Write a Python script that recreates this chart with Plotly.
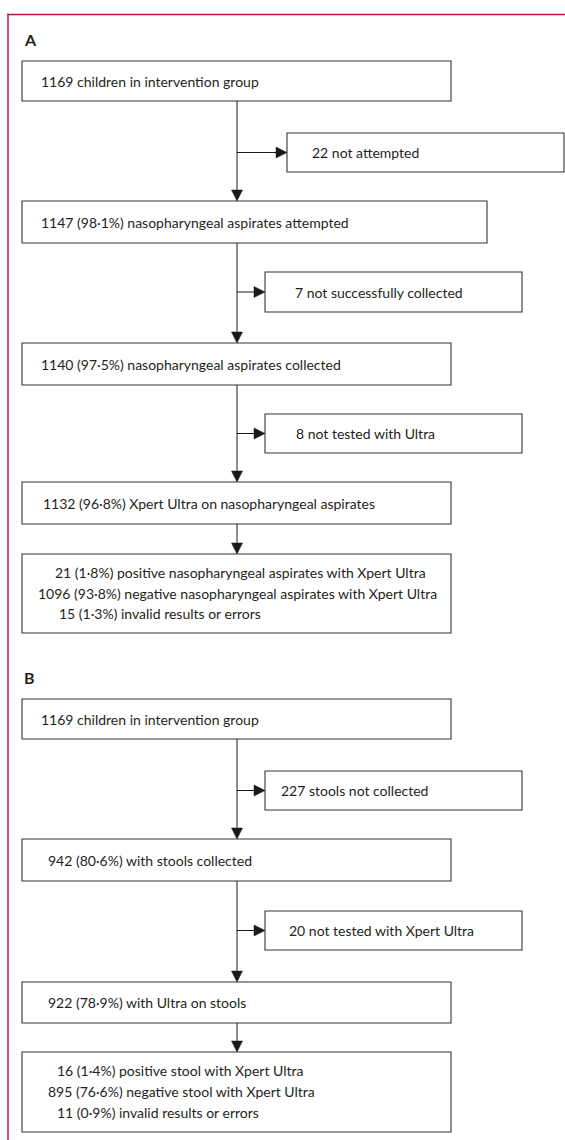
import plotly.graph_objects as go

# ---------------- data (texts) ----------------
panel_labels = ["A", "B"]

main_texts_A = [
    "1169 children in intervention group",
    "1147 (98·1%) nasopharyngeal aspirates attempted",
    "1140 (97·5%) nasopharyngeal aspirates collected",
    "1132 (96·8%) Xpert Ultra on nasopharyngeal aspirates",
]
result_lines_A = [
    "21 (1·8%) positive nasopharyngeal aspirates with Xpert Ultra",
    "1096 (93·8%) negative nasopharyngeal aspirates with Xpert Ultra",
    "15 (1·3%) invalid results or errors",
]
excluded_texts_A = [
    "22 not attempted",
    "7 not successfully collected",
    "8 not tested with Ultra",
]

main_texts_B = [
    "1169 children in intervention group",
    "942 (80·6%) with stools collected",
    "922 (78·9%) with Ultra on stools",
]
result_lines_B = [
    "16 (1·4%) positive stool with Xpert Ultra",
    "895 (76·6%) negative stool with Xpert Ultra",
    "11 (0·9%) invalid results or errors",
]
excluded_texts_B = [
    "227 stools not collected",
    "20 not tested with Xpert Ultra",
]

# ---------------- layout geometry (pixels) ----------------
W, H = 565, 1140
FONT = "Lato, sans-serif"
TXT = "#231f20"
BOX = "#333333"
RED = "#c8143c"
SPINE_X = 237

# main boxes: (x0, x1, y0, y1, text_x)
main_geo_A = [(22, 451, 61, 101, 39), (22, 487, 201, 243, 39),
              (22, 451, 343, 385, 39), (22, 451, 482, 524, 41)]
result_geo_A = (22, 451, 554, 633)
result_line_pos_A = [(53, 572), (36, 593), (57, 613)]
# excluded boxes: (x0, x1, y0, y1, text_x)
excl_geo_A = [(287, 564, 133, 172, 310), (265, 522, 272, 312, 293),
              (265, 522, 414, 453, 294)]

main_geo_B = [(22, 451, 699, 739, 39), (22, 451, 839, 881, 46),
              (22, 451, 982, 1023, 46)]
result_geo_B = (22, 451, 1052, 1132)
result_line_pos_B = [(55, 1070), (46, 1091), (55, 1112)]
excl_geo_B = [(265, 522, 771, 810, 279), (265, 522, 911, 950, 287)]

label_pos = [(22, 39), (22, 677)]

shapes = []
annotations = []


def add_rect(x0, x1, y0, y1):
    shapes.append(dict(type="rect", xref="x", yref="y", x0=x0, x1=x1, y0=y0, y1=y1,
                       line=dict(color=BOX, width=1.1), fillcolor="rgba(0,0,0,0)"))


def add_text(x, y, s, size=14, bold=False):
    annotations.append(dict(x=x, y=y, xref="x", yref="y", text=("<b>%s</b>" % s) if bold else s,
                            showarrow=False, xanchor="left", yanchor="middle",
                            font=dict(family=FONT, size=size, color=TXT)))


def add_line(x0, y0, x1, y1, color="#1a1a1a", width=1):
    shapes.append(dict(type="line", xref="x", yref="y", x0=x0, y0=y0, x1=x1, y1=y1,
                       line=dict(color=color, width=width)))


def down_head(x, y):
    shapes.append(dict(type="path", xref="x", yref="y",
                       path="M %g %g L %g %g L %g %g Z" % (x, y, x - 5.5, y - 11, x + 5.5, y - 11),
                       fillcolor="#1a1a1a", line=dict(color="#1a1a1a", width=0.5)))


def right_head(x, y):
    shapes.append(dict(type="path", xref="x", yref="y",
                       path="M %g %g L %g %g L %g %g Z" % (x, y, x - 11, y - 5.5, x - 11, y + 5.5),
                       fillcolor="#1a1a1a", line=dict(color="#1a1a1a", width=0.5)))


def build_panel(main_texts, main_geo, excl_texts, excl_geo, res_lines, res_geo, res_pos):
    for t, g in zip(main_texts, main_geo):
        add_rect(*g[:4])
        add_text(g[4], (g[2] + g[3]) / 2, t)
    for t, g in zip(excl_texts, excl_geo):
        add_rect(*g[:4])
        add_text(g[4], (g[2] + g[3]) / 2, t)
    add_rect(*res_geo)
    for t, p in zip(res_lines, res_pos):
        add_text(p[0], p[1], t)
    # connectors
    tops = [g[2] for g in main_geo[1:]] + [res_geo[2]]
    bottoms = [g[3] for g in main_geo]
    for i, (b, t) in enumerate(zip(bottoms, tops)):
        add_line(SPINE_X, b, SPINE_X, t - 10)
        down_head(SPINE_X, t)
        if i < len(excl_geo):
            eg = excl_geo[i]
            ym = (eg[2] + eg[3]) / 2
            add_line(SPINE_X, ym, eg[0] - 10, ym)
            right_head(eg[0], ym)


build_panel(main_texts_A, main_geo_A, excluded_texts_A, excl_geo_A,
            result_lines_A, result_geo_A, result_line_pos_A)
build_panel(main_texts_B, main_geo_B, excluded_texts_B, excl_geo_B,
            result_lines_B, result_geo_B, result_line_pos_B)

for lab, (x, y) in zip(panel_labels, label_pos):
    add_text(x, y, lab, size=16, bold=True)

# red frame (top and left) drawn as thin filled bars
shapes.append(dict(type="rect", xref="x", yref="y", x0=7.25, x1=W, y0=13.75, y1=15.25,
                   line=dict(width=0), fillcolor=RED))
shapes.append(dict(type="rect", xref="x", yref="y", x0=7.25, x1=8.75, y0=13.75, y1=H,
                   line=dict(width=0), fillcolor=RED))

fig = go.Figure()
fig.add_trace(go.Scatter(x=[0, W], y=[0, H], mode="markers", marker=dict(opacity=0),
                         hoverinfo="skip", showlegend=False))
fig.update_layout(
    width=W, height=H, margin=dict(l=0, r=0, t=0, b=0),
    paper_bgcolor="white", plot_bgcolor="white",
    xaxis=dict(range=[0, W], visible=False, fixedrange=True),
    yaxis=dict(range=[H, 0], visible=False, fixedrange=True),
    shapes=shapes, annotations=annotations,
)
fig.write_html("out.html", post_script="document.body.style.margin='0';",
               config={"displayModeBar": False})
